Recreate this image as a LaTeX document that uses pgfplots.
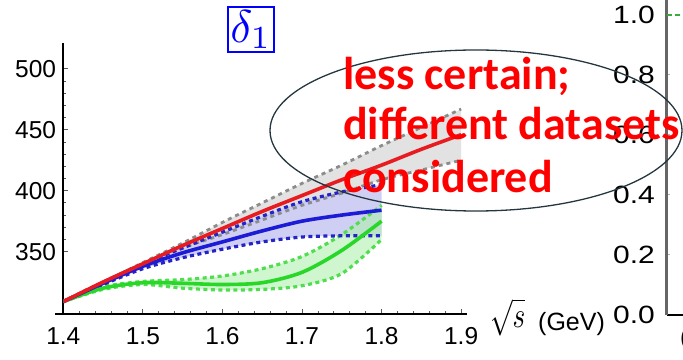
\documentclass[border=0pt]{standalone}
\usepackage{pgfplots}
\pgfplotsset{compat=1.18}
\usepackage{pgfplotstable}
\usepgfplotslibrary{fillbetween}
\usepackage{fontspec}
\setmainfont{Liberation Sans}
\newfontfamily\redfont{Carlito}
\newfontfamily\rfont[FakeStretch=1.2]{Liberation Sans}

\definecolor{cred}{RGB}{232,28,32}
\definecolor{cblue}{RGB}{28,28,215}
\definecolor{cgreen}{RGB}{40,215,40}
\definecolor{cgreendot}{RGB}{80,222,80}
\definecolor{cbluedot}{RGB}{35,35,200}
\definecolor{cgraydash}{RGB}{140,140,140}
\definecolor{fillgray}{RGB}{226,226,226}
\definecolor{fillblue}{RGB}{202,202,242}
\definecolor{fillgreen}{RGB}{175,240,175}
\definecolor{ellcol}{RGB}{36,54,62}
\definecolor{rgreen}{RGB}{60,170,60}

\pgfplotstableread{
x c u l
1.40 309 309 309
1.45 325 325 325
1.50 340 341 339
1.55 355 357 353
1.60 369 374 364
1.65 383 390 376
1.70 396 406 388
1.75 409 421 398
1.80 421 437 409
1.85 434 452 417
1.90 446 467 425
}\redtab

\pgfplotstableread{
x c u l
1.40 309 309 309
1.45 324 325 323
1.50 338 340 336
1.55 349 353 345
1.60 358 366 352
1.65 367 379 358
1.70 375 391 362
1.75 380 399 363
1.80 384 405 363
}\bluetab

\pgfplotstableread{
x c u l
1.40 309 309 309
1.45 320 321 319
1.50 324.5 325.5 323
1.55 324 327 320
1.60 323 330 318.5
1.65 324.5 336 319
1.70 333 346 322
1.75 351 364 332
1.80 375 388 360
}\greentab

\begin{document}
\begin{tikzpicture}

\begin{axis}[
  at={(63.3pt,45pt)}, anchor=south west,
  scale only axis, width=403.4pt, height=270.7pt,
  xmin=1.4, xmax=1.907, ymin=298.8, ymax=521,
  axis lines=left,
  axis line style={-, line width=2.2pt, black},
  x axis line style={shorten <=-8pt},
  xtick={1.4,1.5,1.6,1.7,1.8,1.9},
  xticklabels={1.4,1.5,1.6,1.7,1.8,1.9},
  ytick={350,400,450,500},
  yticklabels={350,400,450,500},
  minor x tick num=4, minor y tick num=4,
  tick align=inside,
  major tick length=5pt, minor tick length=3pt,
  tick style={line width=0.8pt, color=black!65},
  ticklabel style={font=\fontsize{24.5}{27}\selectfont, inner sep=0pt},
  xticklabel style={yshift=-13pt},
  yticklabel style={xshift=-7pt},
]
% gray band
\addplot[name path=gu, draw=none, smooth] table[x=x,y=u]{\redtab};
\addplot[name path=gl, draw=none, smooth] table[x=x,y=l]{\redtab};
\addplot[fill=fillgray, draw=none] fill between[of=gu and gl];
% blue band
\addplot[name path=bu, draw=none, smooth] table[x=x,y=u]{\bluetab};
\addplot[name path=bl, draw=none, smooth] table[x=x,y=l]{\bluetab};
\addplot[fill=fillblue, draw=none, fill opacity=0.9] fill between[of=bu and bl];
% green band
\addplot[name path=nu, draw=none, smooth] table[x=x,y=u]{\greentab};
\addplot[name path=nl, draw=none, smooth] table[x=x,y=l]{\greentab};
\addplot[fill=fillgreen, draw=none, fill opacity=0.6] fill between[of=nu and nl];
% dashed bounds
\addplot[cgraydash, smooth, line width=2.8pt, dash pattern=on 4pt off 4pt] table[x=x,y=u]{\redtab};
\addplot[cgraydash, smooth, line width=2.8pt, dash pattern=on 4pt off 4pt] table[x=x,y=l]{\redtab};
\addplot[cgreendot, smooth, line width=3.2pt, dash pattern=on 4pt off 3.5pt] table[x=x,y=u]{\greentab};
\addplot[cgreendot, smooth, line width=3.2pt, dash pattern=on 4pt off 3.5pt] table[x=x,y=l]{\greentab};
\addplot[cbluedot, smooth, line width=3.2pt, dash pattern=on 4pt off 3.5pt] table[x=x,y=u]{\bluetab};
\addplot[cbluedot, smooth, line width=3.2pt, dash pattern=on 4pt off 3.5pt] table[x=x,y=l]{\bluetab};
% central curves
\addplot[cgreen, smooth, line width=3.6pt] table[x=x,y=c]{\greentab};
\addplot[cblue, smooth, line width=3.6pt] table[x=x,y=c]{\bluetab};
\addplot[cred, smooth, line width=3.6pt] table[x=x,y=c]{\redtab};
\end{axis}

% partial right-hand plot
\begin{axis}[
  at={(666.7pt,44pt)}, anchor=south west,
  scale only axis, width=16.3pt, height=315pt,
  xmin=0, xmax=1, ymin=0, ymax=1.05,
  axis lines=left,
  axis line style={-},
  y axis line style={line width=2.6pt, color=black!60},
  x axis line style={line width=2pt, black},
  xtick=\empty,
  ytick={0,0.2,0.4,0.6,0.8,1.0},
  yticklabels={0.0,0.2,0.4,0.6,0.8,1.0},
  tick align=inside,
  major tick length=3pt,
  ytick style={color=black!30, line width=1pt},
  yticklabel style={font=\rfont\fontsize{25}{28}\selectfont, inner sep=0pt, xshift=-11.7pt},
]
\addplot[rgreen, line width=1.5pt, dash pattern=on 5pt off 3pt] coordinates {(0,1) (1,1)};
\end{axis}
\node[anchor=base west, inner sep=0pt, font=\fontsize{25}{28}\selectfont] at (680pt,14pt) {(};

% x label of left plot
\node[anchor=base west, inner sep=0pt] at (490pt,32pt) {\scalebox{2.7}[3.6]{$\sqrt{s}$}};
\node[anchor=base west, inner sep=0pt, font=\fontsize{25}{28}\selectfont] at (538pt,28.5pt) {(GeV)};

% title box
\node[draw=blue, line width=1.3pt, text=blue, inner xsep=2.5pt, inner ysep=3pt] at (251pt,329.5pt) {\scalebox{4.6}{$\delta_1$}};

% annotation
\draw[ellcol, line width=1.3pt] (476pt,228.5pt) ellipse [x radius=206pt, y radius=80.5pt];
\node[anchor=base west, inner sep=0pt, text=red, font=\redfont\bfseries\fontsize{46}{52}\selectfont] at (343pt,269pt) {less certain;};
\node[anchor=base west, inner sep=0pt, text=red, font=\redfont\bfseries\fontsize{46}{52}\selectfont] at (343pt,219pt) {different datasets};
\node[anchor=base west, inner sep=0pt, text=red, font=\redfont\bfseries\fontsize{46}{52}\selectfont] at (343pt,166pt) {considered};

\pgfresetboundingbox
\path[use as bounding box] (0pt,0pt) rectangle (683pt,359pt);
\end{tikzpicture}
\end{document}
